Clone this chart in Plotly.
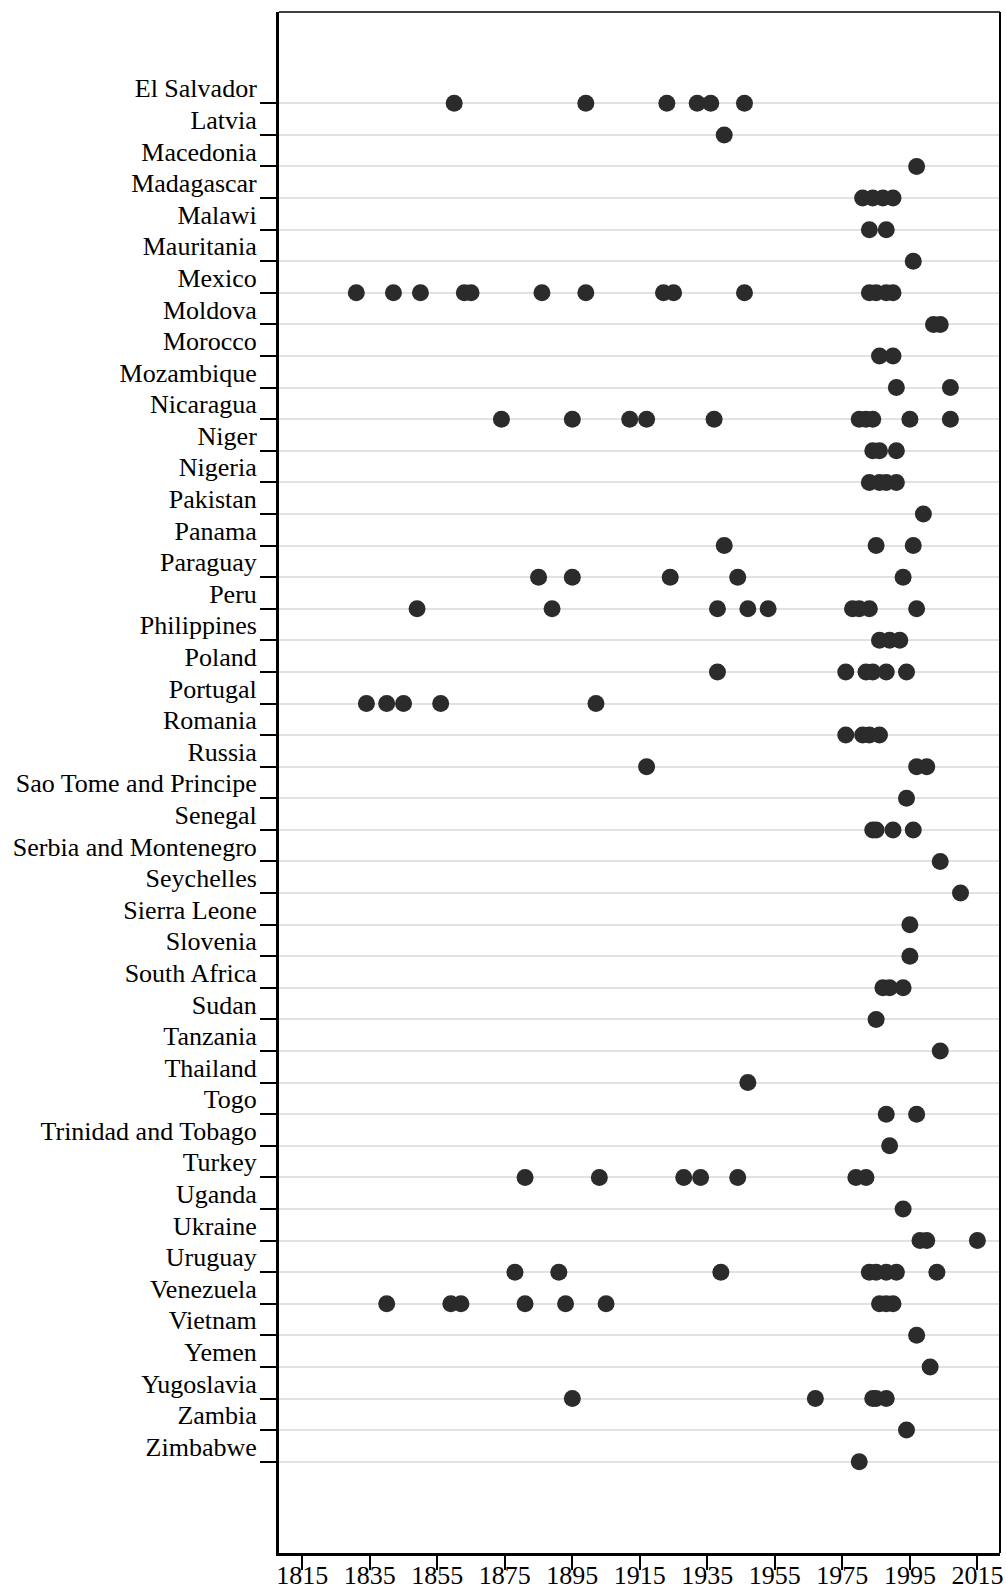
import plotly.graph_objects as go

countries = [
    "El Salvador", "Latvia", "Macedonia", "Madagascar", "Malawi", "Mauritania",
    "Mexico", "Moldova", "Morocco", "Mozambique", "Nicaragua", "Niger", "Nigeria",
    "Pakistan", "Panama", "Paraguay", "Peru", "Philippines", "Poland", "Portugal",
    "Romania", "Russia", "Sao Tome and Principe", "Senegal", "Serbia and Montenegro",
    "Seychelles", "Sierra Leone", "Slovenia", "South Africa", "Sudan", "Tanzania",
    "Thailand", "Togo", "Trinidad and Tobago", "Turkey", "Uganda", "Ukraine",
    "Uruguay", "Venezuela", "Vietnam", "Yemen", "Yugoslavia", "Zambia", "Zimbabwe",
]

years = [
    [1860, 1899, 1923, 1932, 1936, 1946],                          # El Salvador
    [1940],                                                         # Latvia
    [1997],                                                         # Macedonia
    [1981, 1984, 1987, 1990],                                       # Madagascar
    [1983, 1988],                                                   # Malawi
    [1996],                                                         # Mauritania
    [1831, 1842, 1850, 1863, 1865, 1886, 1899, 1922, 1925, 1946,
     1983, 1985, 1988, 1990],                                       # Mexico
    [2002, 2004],                                                   # Moldova
    [1986, 1990],                                                   # Morocco
    [1991, 2007],                                                   # Mozambique
    [1874, 1895, 1912, 1917, 1937, 1980, 1982, 1984, 1995, 2007],   # Nicaragua
    [1984, 1986, 1991],                                             # Niger
    [1983, 1986, 1988, 1991],                                       # Nigeria
    [1999],                                                         # Pakistan
    [1940, 1985, 1996],                                             # Panama
    [1885, 1895, 1924, 1944, 1993],                                 # Paraguay
    [1849, 1889, 1938, 1947, 1953, 1978, 1980, 1983, 1997],         # Peru
    [1986, 1989, 1992],                                             # Philippines
    [1938, 1976, 1982, 1984, 1988, 1994],                           # Poland
    [1834, 1840, 1845, 1856, 1902],                                 # Portugal
    [1976, 1981, 1983, 1986],                                       # Romania
    [1917, 1997, 2000],                                             # Russia
    [1994],                                                         # Sao Tome and Principe
    [1984, 1985, 1990, 1996],                                       # Senegal
    [2004],                                                         # Serbia and Montenegro
    [2010],                                                         # Seychelles
    [1995],                                                         # Sierra Leone
    [1995],                                                         # Slovenia
    [1987, 1989, 1993],                                             # South Africa
    [1985],                                                         # Sudan
    [2004],                                                         # Tanzania
    [1947],                                                         # Thailand
    [1988, 1997],                                                   # Togo
    [1989],                                                         # Trinidad and Tobago
    [1881, 1903, 1928, 1933, 1944, 1979, 1982],                     # Turkey
    [1993],                                                         # Uganda
    [1998, 2000, 2015],                                             # Ukraine
    [1878, 1891, 1939, 1983, 1985, 1988, 1991, 2003],               # Uruguay
    [1840, 1859, 1862, 1881, 1893, 1905, 1986, 1988, 1990],         # Venezuela
    [1997],                                                         # Vietnam
    [2001],                                                         # Yemen
    [1895, 1967, 1984, 1985, 1988],                                 # Yugoslavia
    [1994],                                                         # Zambia
    [1980],                                                         # Zimbabwe
]

x_ticks = [1815, 1835, 1855, 1875, 1895, 1915, 1935, 1955, 1975, 1995, 2015]

xs, ys = [], []
for c, yr in zip(countries, years):
    for v in yr:
        xs.append(v)
        ys.append(c)

fig = go.Figure()
fig.add_trace(go.Scatter(
    x=xs, y=ys, mode="markers",
    marker=dict(size=17, color="#2b2b2b", line=dict(width=0)),
    hoverinfo="x+y", showlegend=False,
))

font = dict(family="Liberation Serif, Times New Roman, serif", size=26, color="black")

fig.update_layout(
    width=1006, height=1588,
    margin=dict(l=279, r=6, t=12, b=35, autoexpand=False),
    paper_bgcolor="white", plot_bgcolor="white",
    font=font,
    xaxis=dict(
        range=[1808.1, 2021.7], tickvals=x_ticks, ticktext=[str(t) for t in x_ticks],
        showgrid=False, zeroline=False, automargin=False,
        showline=True, linecolor="black", linewidth=3,
        ticks="outside", ticklen=14, tickwidth=1.5, tickcolor="black",
        tickfont=font, ticklabelstandoff=-17,
    ),
    yaxis=dict(
        type="category", categoryorder="array", categoryarray=countries,
        range=[len(countries) - 1 + 2.89, -2.89],
        showgrid=True, gridcolor="#e2e2e2", gridwidth=2,
        zeroline=False, automargin=False,
        showline=True, linecolor="black", linewidth=3,
        ticks="outside", ticklen=16, tickwidth=2, tickcolor="black",
        tickfont=font, ticklabelshift=15, ticklabelstandoff=-2,
    ),
    shapes=[
        dict(type="line", xref="paper", yref="paper", x0=0, x1=1, y0=1, y1=1,
             line=dict(color="black", width=1.7)),
        dict(type="line", xref="paper", yref="paper", x0=1, x1=1, y0=0, y1=1,
             line=dict(color="black", width=2)),
    ],
)

fig.write_html(
    "out.html",
    config={"displayModeBar": False},
    post_script="document.body.style.margin='0px';document.body.style.overflow='hidden';",
)
